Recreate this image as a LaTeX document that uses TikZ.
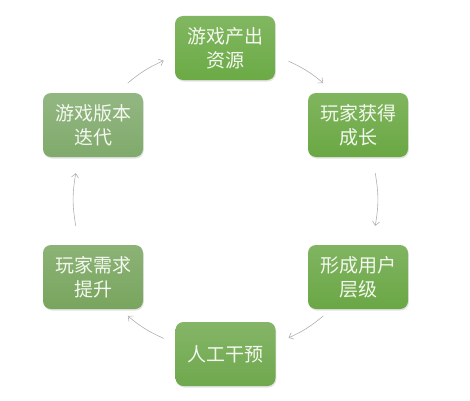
\documentclass[tikz,border=0pt]{standalone}
\usepackage{fontspec}
\newfontfamily\cjk{Noto Sans CJK SC}
\usetikzlibrary{arrows.meta,shadows}
\definecolor{gA}{HTML}{6BAA45}
\definecolor{gB}{HTML}{6AA843}
\definecolor{gC}{HTML}{6AA745}
\definecolor{gD}{HTML}{6FA84D}
\definecolor{gE}{HTML}{78A55E}
\definecolor{gF}{HTML}{80AA6C}
\definecolor{txt}{HTML}{F4F8F0}
\definecolor{arr}{HTML}{B0B0B0}
\tikzset{
  box/.style={rounded corners=8pt, minimum width=100pt, minimum height=64pt,
    align=center, text=txt, font=\cjk\fontsize{19}{24}\selectfont, inner sep=0pt,
    drop shadow={opacity=0.22, shadow xshift=0.8pt, shadow yshift=-1.5pt}},
  link/.style={draw=arr, line width=0.6pt, -{Straight Barb[length=4pt,width=7pt]}}
}
\begin{document}
\begin{tikzpicture}[x=1pt,y=1pt]
\useasboundingbox (0,0) rectangle (470,400);
\fill[white] (0,0) rectangle (470,400);
\coordinate (c) at (225.5,200.5);
\node[box, top color=gA!85!white, bottom color=gA] (n1) at (225,352) {游戏产出\\资源};
\node[box, top color=gB!85!white, bottom color=gB] (n2) at (358,275) {玩家获得\\成长};
\node[box, top color=gC!85!white, bottom color=gC] (n3) at (358,123) {形成用户\\层级};
\node[box, top color=gD!85!white, bottom color=gD] (n4) at (225.5,46) {人工干预};
\node[box, top color=gE!85!white, bottom color=gE] (n5) at (93,123) {玩家需求\\提升};
\node[box, top color=gF!85!white, bottom color=gF] (n6) at (93,275) {游戏版本\\迭代};
\path (c) ++(65.5:152) coordinate (a1s);
\path (c) ++(50:152) coordinate (a1e);
\path (c) ++(10:152) coordinate (a2s);
\path (c) ++(-10:152) coordinate (a2e);
\path (c) ++(-50:152) coordinate (a3s);
\path (c) ++(-65.5:152) coordinate (a3e);
\path (c) ++(-114:152) coordinate (a4s);
\path (c) ++(-130:152) coordinate (a4e);
\path (c) ++(190:152) coordinate (a5s);
\path (c) ++(170:152) coordinate (a5e);
\path (c) ++(130:152) coordinate (a6s);
\path (c) ++(114:152) coordinate (a6e);
\draw[link] (a1s) to[bend left=7.75] (a1e);
\draw[link] (a2s) to[bend left=10] (a2e);
\draw[link] (a3s) to[bend left=7.75] (a3e);
\draw[link] (a4s) to[bend left=8] (a4e);
\draw[link] (a5s) to[bend left=10] (a5e);
\draw[link] (a6s) to[bend left=8] (a6e);
\end{tikzpicture}
\end{document}
